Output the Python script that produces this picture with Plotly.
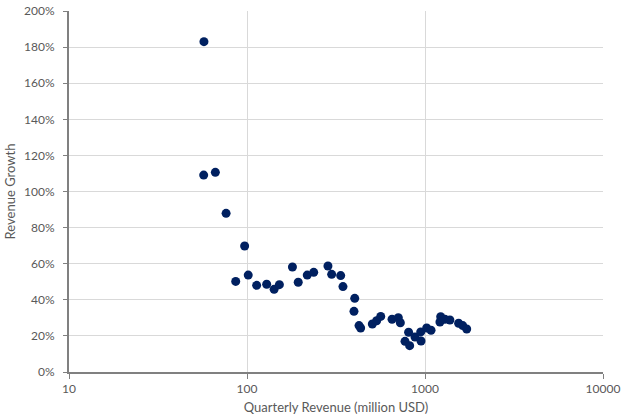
import plotly.graph_objects as go

revenue = [57.3, 57.1, 66.4, 76.3, 86.4, 97, 101.6, 113.3, 129, 142, 152, 180, 194, 218, 237,
           285, 299, 336, 346, 403, 399, 426, 435, 506, 535, 564, 653, 708, 727, 809, 772,
           820, 879, 946, 950, 1022, 1081, 1225, 1213, 1294, 1380, 1545, 1629, 1715]
growth = [183.0, 109.1, 110.6, 87.9, 50.2, 69.8, 53.7, 48.0, 48.6, 45.8, 48.4, 58.2, 49.7, 53.7, 55.2,
          58.7, 54.1, 53.4, 47.3, 40.8, 33.6, 25.7, 24.4, 26.6, 28.4, 30.8, 29.2, 30.1, 27.3, 22.0, 17.0,
          14.6, 19.4, 22.2, 17.2, 24.4, 23.1, 30.6, 27.7, 29.2, 28.8, 27.0, 25.7, 23.8]
x_ticks = [10, 100, 1000, 10000]
y_ticks = [0, 20, 40, 60, 80, 100, 120, 140, 160, 180, 200]

fig = go.Figure()
fig.add_trace(go.Scatter(
    x=revenue, y=[g / 100 for g in growth], mode="markers",
    marker=dict(color="#002060", size=9, line=dict(width=0)),
    showlegend=False, hoverinfo="x+y"))

font = "Lato, Open Sans, sans-serif"
fig.update_layout(
    width=640, height=418,
    margin=dict(l=69, r=37, t=11, b=46, autoexpand=False),
    paper_bgcolor="white", plot_bgcolor="white",
    font=dict(family=font, color="#595959", size=12),
    xaxis=dict(type="log", range=[1, 4], tickvals=x_ticks, ticktext=[str(v) for v in x_ticks],
               automargin=False, ticklabeloverflow="allow",
               showgrid=True, gridcolor="#d9d9d9", gridwidth=1,
               showline=True, linecolor="#808080", linewidth=1.5,
               ticks="outside", ticklen=5, tickcolor="#808080",
               zeroline=False,
               title=dict(text="Quarterly Revenue (million USD)", font=dict(size=13, color="#595959"), standoff=8)),
    yaxis=dict(range=[0, 2.0], tickvals=[v / 100 for v in y_ticks], ticktext=[f"{v}%" for v in y_ticks],
               automargin=False, ticklabeloverflow="allow",
               showgrid=True, gridcolor="#d9d9d9", gridwidth=1,
               showline=True, linecolor="#808080", linewidth=2,
               ticks="outside", ticklen=4, tickcolor="#808080", ticklabelstandoff=6,
               zeroline=False,
               title=dict(text="Revenue Growth", font=dict(size=13, color="#595959"), standoff=6)),
)
fig.write_html("out.html", config={"displayModeBar": False},
               post_script="document.body.style.margin='0';document.body.style.overflow='hidden';")
